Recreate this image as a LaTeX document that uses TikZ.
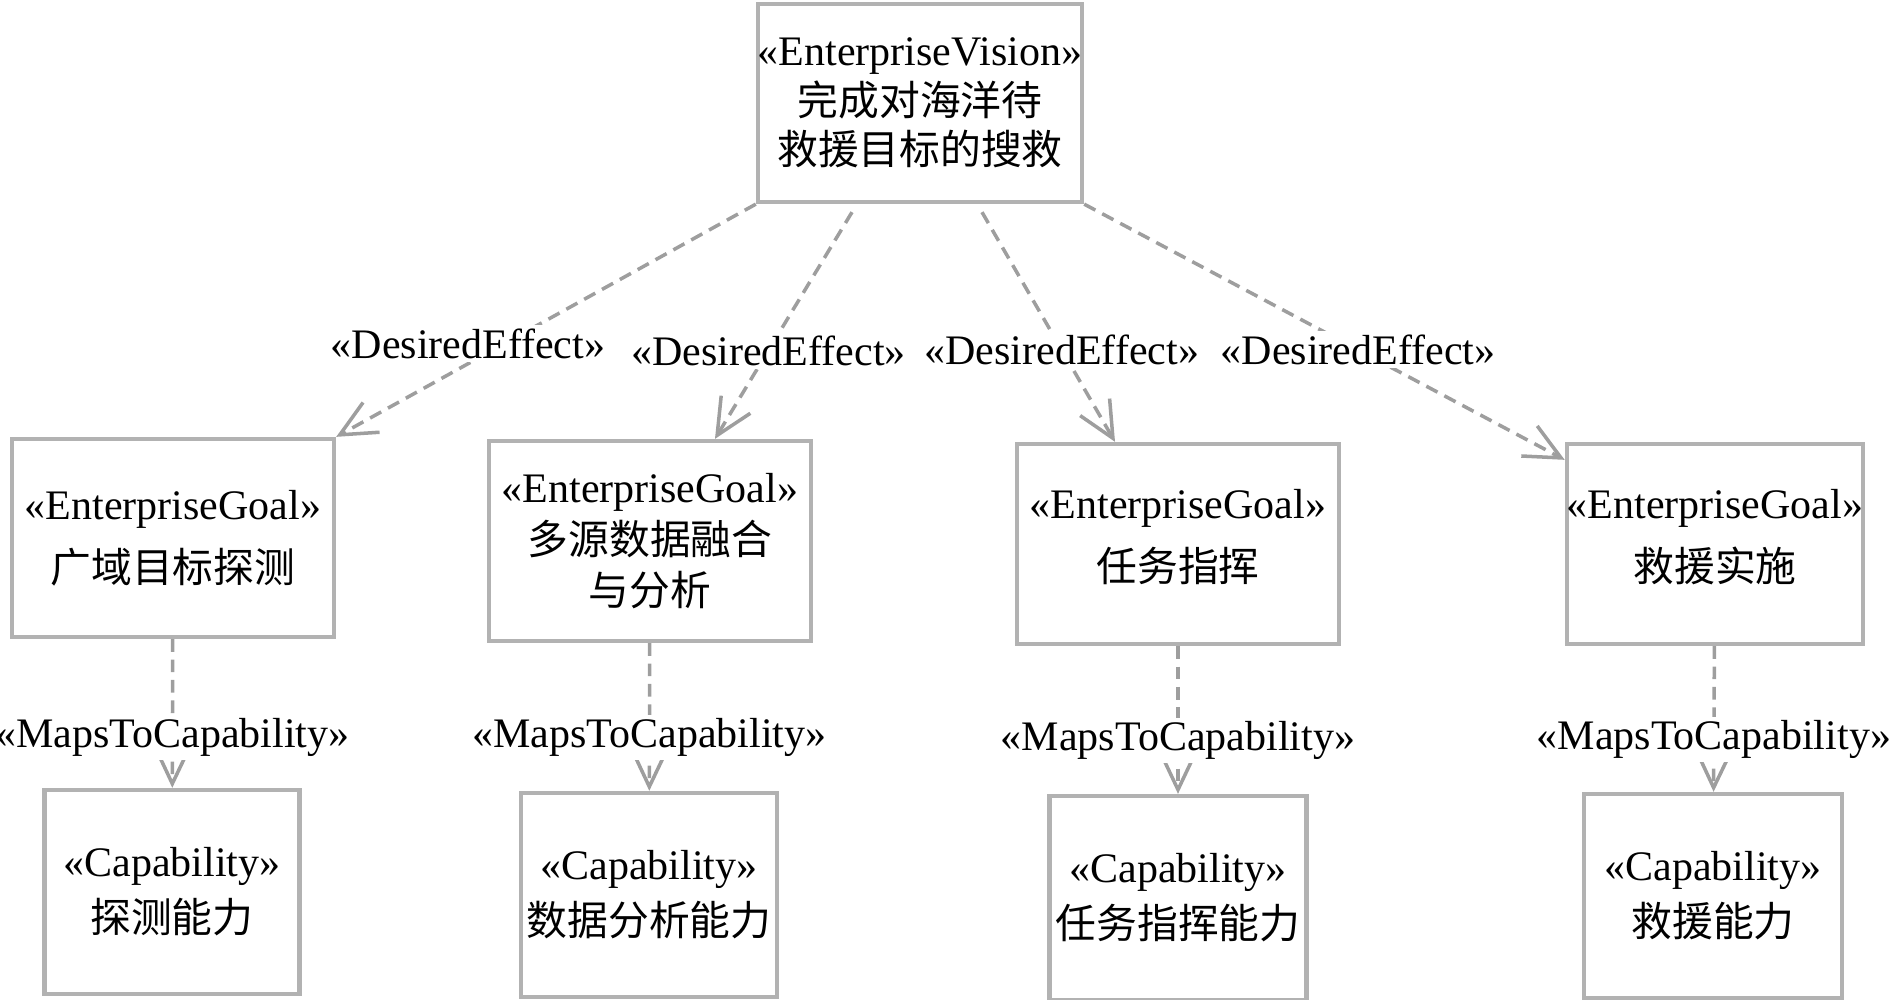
\documentclass[tikz,border=0pt]{standalone}
\usepackage{fontspec}
\setmainfont[Scale=1.03]{Liberation Serif}
\newfontfamily\cjk{Noto Sans CJK SC}
\usetikzlibrary{arrows.meta,calc}
\definecolor{boxgray}{RGB}{178,178,178}
\definecolor{linegray}{RGB}{158,158,158}
\newcommand{\stereo}[1]{«#1»}
\newcommand{\widthvision}{3.22cm}
\newcommand{\widthgoal}{3.22cm}
\newcommand{\widthcap}{2.55cm}
\tikzset{
    common/.style={draw=boxgray, line width=1.2pt, rectangle, align=center, inner sep=0pt, font=\fontsize{11.6}{14}\selectfont},
    visionbox/.style={common, minimum width=\widthvision, minimum height=1.98cm},
    goalbox/.style={common, minimum width=\widthgoal, minimum height=1.98cm},
    capbox/.style={common, minimum width=\widthcap, minimum height=2.04cm},
    rel/.style={draw=linegray, line width=1pt, dash pattern=on 3.6pt off 2.2pt, -{Straight Barb[length=3.6mm, width=3.4mm]}},
    rellabel/.style={fill=white, inner sep=1pt, font=\fontsize{11.6}{14}\selectfont}
}
\begin{document}
\begin{tikzpicture}[x=0.01cm, y=-0.01cm]
    \useasboundingbox (0,0) rectangle (1890,1000);

    \node[visionbox] (vision) at (920,103) {\stereo{EnterpriseVision}\\{\cjk 完成对海洋待}\\{\cjk 救援目标的搜救}};

    \node[goalbox] (goalA) at (173,538) {\stereo{EnterpriseGoal}\\[3.8pt]{\cjk 广域目标探测}};
    \node[goalbox, minimum height=2cm] (goalB) at (650,541) {\stereo{EnterpriseGoal}\\[1pt]{\cjk 多源数据融合}\\[0.5pt]{\cjk 与分析}};
    \node[goalbox, minimum height=2cm, text depth=0.17cm] (goalC) at (1178,544) {\stereo{EnterpriseGoal}\\[3.8pt]{\cjk 任务指挥}};
    \node[goalbox, minimum width=2.91cm, minimum height=2cm, text depth=0.17cm] (goalD) at (1715,544) {\stereo{EnterpriseGoal}\\[3.8pt]{\cjk 救援实施}};

    \node[capbox] (capA) at (172,892) {\stereo{Capability}\\[1.9pt]{\cjk 探测能力}};
    \node[capbox, minimum width=2.56cm] (capB) at (649,895) {\stereo{Capability}\\[1.9pt]{\cjk 数据分析能力}};
    \node[capbox, minimum width=2.57cm] (capC) at (1178,898) {\stereo{Capability}\\[1.9pt]{\cjk 任务指挥能力}};
    \node[capbox, minimum width=2.58cm] (capD) at (1713,896) {\stereo{Capability}\\[1.9pt]{\cjk 救援能力}};

    \draw[rel] (vision.south west) -- node[rellabel, pos=0.6, xshift=-0.36cm] {\stereo{DesiredEffect}} (goalA.north east);
    \draw[rel] ($(vision.south)+(-68,8)$) -- node[rellabel, pos=0.61] {\stereo{DesiredEffect}} ($(goalB.north)+(65,0)$);
    \draw[rel] ($(vision.south)+(62,8)$) -- node[rellabel, pos=0.6] {\stereo{DesiredEffect}} ($(goalC.north)+(-63,0)$);
    \draw[rel] (vision.south east) -- node[rellabel, pos=0.57] {\stereo{DesiredEffect}} ($(goalD.north west)+(0,18)$);

    \draw[rel] (goalA) -- node[rellabel, pos=0.66] {\stereo{MapsToCapability}} (capA);
    \draw[rel] (goalB) -- node[rellabel, pos=0.64] {\stereo{MapsToCapability}} (capB);
    \draw[rel] (goalC) -- node[rellabel, pos=0.64] {\stereo{MapsToCapability}} (capC);
    \draw[rel] (goalD) -- node[rellabel, pos=0.64] {\stereo{MapsToCapability}} (capD);
\end{tikzpicture}
\end{document}
